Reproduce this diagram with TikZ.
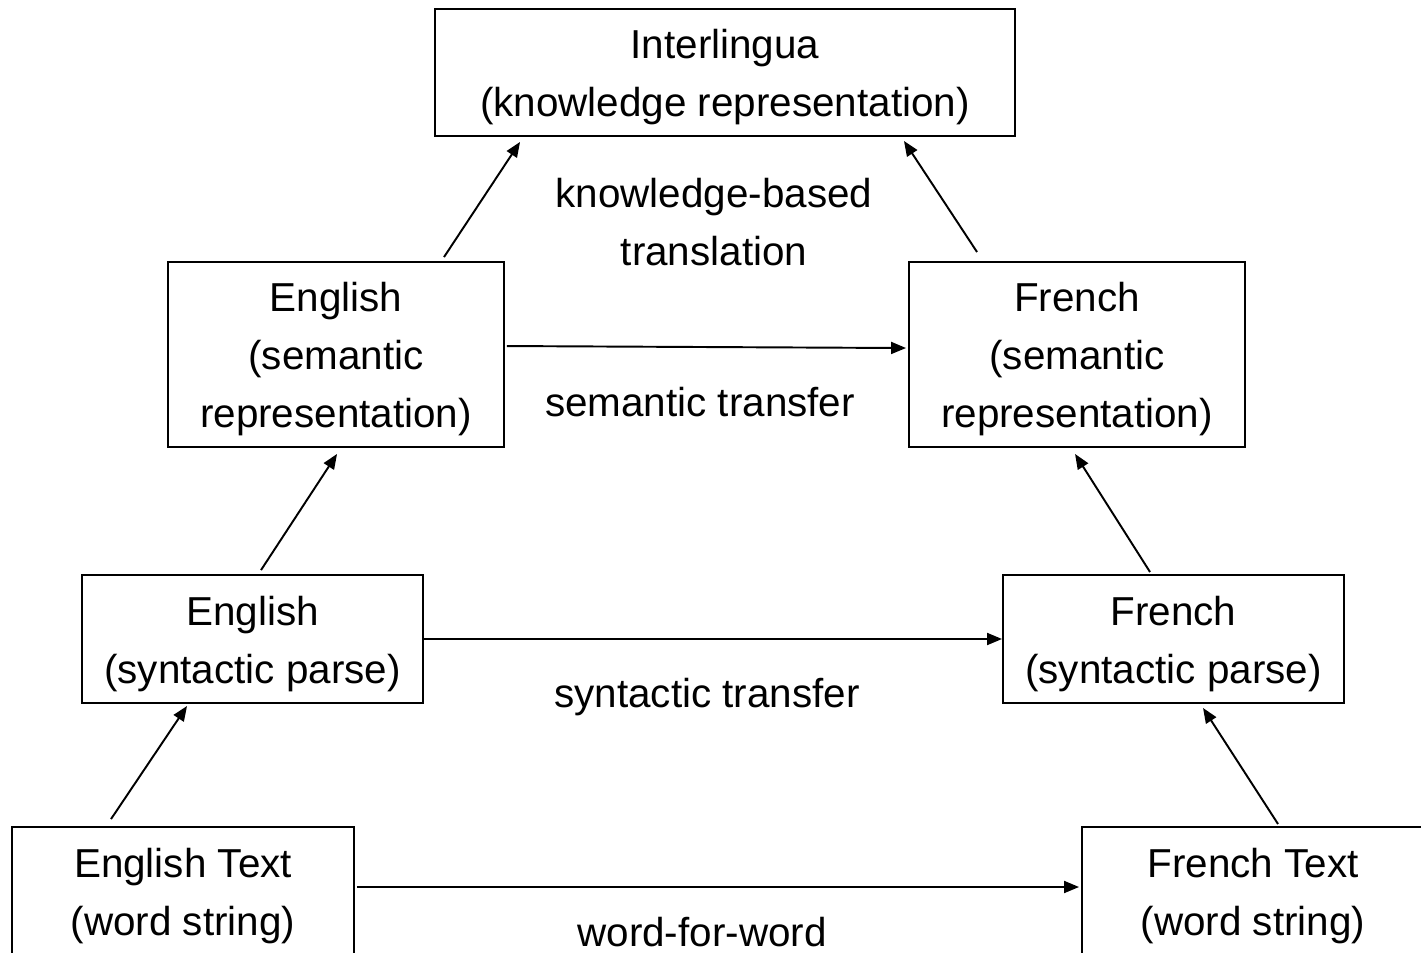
\documentclass[tikz,border=0pt]{standalone}
\usepackage{fontspec}
\setmainfont{Liberation Sans}
\usetikzlibrary{arrows.meta,calc}
\begin{document}
\begin{tikzpicture}[x=0.02cm,y=-0.02cm,
  box/.style={draw,line width=1.1pt,rectangle,inner sep=0pt},
  lbl/.style={inner sep=0pt,align=center,font=\fontsize{23}{33}\selectfont},
  txt/.style={label={[lbl,yshift=-0.1cm]center:#1}},
  arr/.style={line width=1.1pt,-{Triangle[length=0.3cm,width=0.24cm]}}]
\clip (0,0) rectangle (1421,953);
\fill[white] (0,0) rectangle (1421,953);
\node[box,minimum width=580*0.02cm,minimum height=127*0.02cm,txt={Interlingua\\(knowledge representation)}] (inter) at (725,72.5) {};
\node[box,minimum width=336*0.02cm,minimum height=185*0.02cm,txt={English\\(semantic\\representation)}] (esem) at (336,354.5) {};
\node[box,minimum width=336*0.02cm,minimum height=185*0.02cm,txt={French\\(semantic\\representation)}] (fsem) at (1077,354.5) {};
\node[box,minimum width=341*0.02cm,minimum height=128*0.02cm,txt={English\\(syntactic parse)}] (esyn) at (252.5,639) {};
\node[box,minimum width=341*0.02cm,minimum height=128*0.02cm,txt={French\\(syntactic parse)}] (fsyn) at (1173.5,639) {};
\node[box,minimum width=342*0.02cm,minimum height=128*0.02cm,txt={English Text\\(word string)}] (etxt) at (183,891) {};
\node[box,minimum width=342*0.02cm,minimum height=128*0.02cm,txt={French Text\\(word string)}] (ftxt) at (1253,891) {};
\node[lbl] (kb) at (714,222) {knowledge-based\\translation};
\node[lbl] (st) at (700,402) {semantic transfer};
\node[lbl] (sy) at (707,697) {syntactic transfer};
\node[lbl] (ww) at (702,932) {word-for-word};
\draw[arr] ($(etxt.north west)+(100,-7)$) -- ($(esyn.south west)+(106,2)$);
\draw[arr] ($(esyn.north west)+(180,-4)$) -- ($(esem.south west)+(170,6)$);
\draw[arr] ($(esem.north west)+(277,-4)$) -- ($(inter.south west)+(86,5)$);
\draw[arr] ($(ftxt.north west)+(197,-2)$) -- ($(fsyn.south west)+(201,4)$);
\draw[arr] ($(fsyn.north west)+(148,-2)$) -- ($(fsem.south west)+(167,6)$);
\draw[arr] ($(fsem.north west)+(69,-9)$) -- ($(inter.south east)+(-112,4)$);
\draw[arr] ($(esem.north east)+(2,85)$) -- ($(fsem.north west)+(-2,87)$);
\draw[arr] (esyn.east) -- (fsyn.west);
\draw[arr] ($(etxt.east)+(2,-4)$) -- ($(ftxt.west)+(-2,-4)$);
\end{tikzpicture}
\end{document}
